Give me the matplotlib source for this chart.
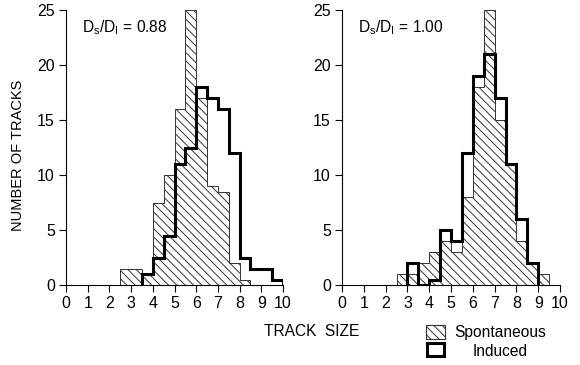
import numpy as np
import matplotlib.pyplot as plt
from matplotlib.patches import Rectangle

plt.rcParams['font.family'] = ['Liberation Sans', 'DejaVu Sans']
plt.rcParams['hatch.linewidth'] = 0.7

# bin edges (track size), 0.5 wide
edges_left = np.arange(2.5, 8.51, 0.5)
spont_left = [1.5, 1.5, 1, 7.5, 10, 16, 25, 17, 9, 8.5, 2, 0.5]
edges_left_ind = np.arange(3.5, 10.01, 0.5)
ind_left = [1, 2.5, 4.5, 11, 12.5, 18, 17, 16, 12, 2.5, 1.5, 1.5, 0.5]

edges_right = np.arange(2.5, 9.51, 0.5)
spont_right = [1, 1, 2, 3, 4, 3, 8, 18, 25, 15, 11, 4, 2, 1]
edges_right_ind = np.arange(3.0, 9.01, 0.5)
ind_right = [2, 0, 0.5, 5, 4, 12, 19, 21, 17, 11, 6, 2]

ratios = ['0.88', '1.00']

fig = plt.figure(figsize=(5.8, 3.65), dpi=100)
ax1 = fig.add_axes([66/580, 1-285/365, 217/580, 275/365])
ax2 = fig.add_axes([342/580, 1-285/365, 218/580, 275/365])

panels = [
    (ax1, edges_left, spont_left, edges_left_ind, ind_left, ratios[0]),
    (ax2, edges_right, spont_right, edges_right_ind, ind_right, ratios[1]),
]
for ax, es, vs, ei, vi, r in panels:
    ax.stairs(vs, es, fill=True, hatch='\\\\\\\\', facecolor='white',
              edgecolor='#333333', linewidth=0.7)
    ax.stairs(vi, ei, baseline=0, color='black', linewidth=2.2)
    ax.set_xlim(0, 10)
    ax.set_ylim(0, 25)
    ax.set_xticks(range(0, 11))
    ax.set_yticks(range(0, 26, 5))
    ax.tick_params(direction='out', length=5, width=0.8, labelsize=11.5, pad=3)
    for s in ['top', 'right']:
        ax.spines[s].set_visible(False)
    for s in ['left', 'bottom']:
        ax.spines[s].set_linewidth(0.8)
    ax.text(0.75, 23.4, r'D$_{\mathregular{s}}$/D$_{\mathregular{I}}$ = ' + r,
            fontsize=11.2, va='center', ha='left')

ax1.set_ylabel('NUMBER OF TRACKS', fontsize=10.5)
ax1.yaxis.set_label_coords(-0.19, 0.47)
fig.text(312/580, 1-331/365, 'TRACK  SIZE', fontsize=11.2, ha='center', va='center')

# legend
fig.add_artist(Rectangle((426/580, 1-339/365), 19/580, 14/365, transform=fig.transFigure,
                         facecolor='white', edgecolor='#333333', hatch='\\\\\\\\', linewidth=0.8))
fig.add_artist(Rectangle((427/580, 1-356/365), 17/580, 13/365, transform=fig.transFigure,
                         facecolor='white', edgecolor='black', linewidth=2.2))
fig.text(454/580, 1-332/365, 'Spontaneous', fontsize=11.2, va='center', ha='left')
fig.text(500/580, 1-352/365, 'Induced', fontsize=11.2, va='center', ha='center')

fig.savefig('out.png', dpi=100)
